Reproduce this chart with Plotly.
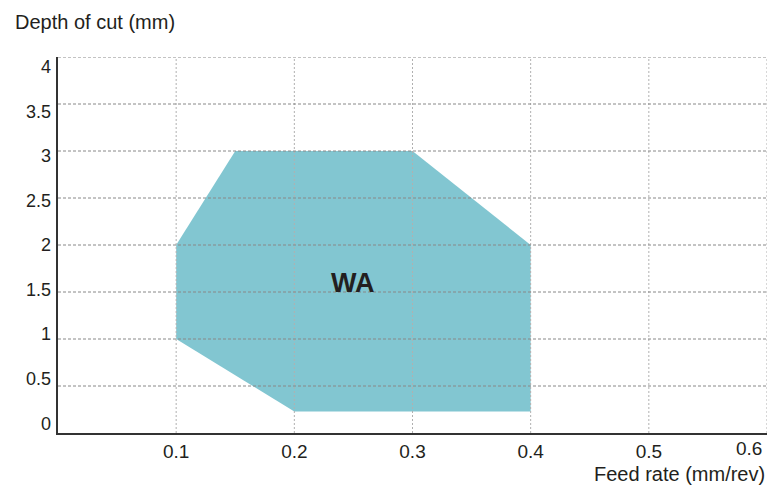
import plotly.graph_objects as go

# Operating region (feed rate mm/rev, depth of cut mm)
region_feed = [0.1, 0.1, 0.15, 0.3, 0.4, 0.4, 0.2, 0.1]
region_depth = [1.0, 2.0, 3.0, 3.0, 2.0, 0.23, 0.23, 1.0]
region_label = "WA"
label_pos = (0.25, 1.6)

x_ticks = [0.1, 0.2, 0.3, 0.4, 0.5, 0.6]
x_ticktext = ["0.1", "0.2", "0.3", "0.4", "0.5", "0.6"]
y_ticks = [0, 0.5, 1, 1.5, 2, 2.5, 3, 3.5, 4]
y_ticktext = ["0", "0.5", "1", "1.5", "2", "2.5", "3", "3.5", "4"]
x_title = "Feed rate (mm/rev)"
y_title = "Depth of cut (mm)"

FONT = "Liberation Sans, Arial, sans-serif"
TXT = "#231f20"
FILL = "#82c6d1"

fig = go.Figure()
fig.add_trace(go.Scatter(
    x=region_feed, y=region_depth, fill="toself", mode="lines",
    line=dict(width=0, color=FILL), fillcolor=FILL, hoverinfo="skip",
    showlegend=False))
# dummy trace to carry the tick-label axis
fig.add_trace(go.Scatter(x=[None], y=[None], xaxis="x", yaxis="y2",
                         showlegend=False, hoverinfo="skip"))

shapes = []
for xv in x_ticks:
    shapes.append(dict(type="line", xref="x", yref="y", x0=xv, x1=xv, y0=0, y1=4,
                       line=dict(color="#b0b0b0", width=1, dash="2px,2px"), layer="above"))
for yv in y_ticks[1:]:
    shapes.append(dict(type="line", xref="x", yref="y", x0=0, x1=0.6, y0=yv, y1=yv,
                       line=dict(color="#888888", width=1, dash="3px,2px"), layer="above"))

annotations = [
    dict(x=label_pos[0], y=label_pos[1], xref="x", yref="y", text="<b>%s</b>" % region_label,
         showarrow=False, font=dict(family=FONT, size=27, color=TXT)),
    dict(x=x_ticks[-1], y=0, xref="x", yref="y", text=x_ticktext[-1], showarrow=False,
         xanchor="right", yanchor="top", xshift=-3, yshift=-3,
         font=dict(family=FONT, size=19, color=TXT)),
    dict(x=1, y=0, xref="paper", yref="y", text=x_title, showarrow=False,
         xanchor="right", yanchor="top", xshift=0, yshift=-28,
         font=dict(family=FONT, size=20, color=TXT)),
    dict(x=0, y=4, xref="paper", yref="y", text=y_title, showarrow=False,
         xanchor="left", yanchor="bottom", xshift=-45, yshift=22,
         font=dict(family=FONT, size=20, color=TXT)),
]

fig.update_layout(
    width=770, height=487,
    margin=dict(l=58, r=3, t=57, b=54, autoexpand=False),
    paper_bgcolor="white", plot_bgcolor="rgba(0,0,0,0)",
    xaxis=dict(range=[0, 0.6], tickvals=x_ticks[:-1], ticktext=x_ticktext[:-1],
               showgrid=False, zeroline=False, showline=True, linecolor="#333333",
               linewidth=2, ticks="", ticklabelstandoff=0, automargin=False,
               tickfont=dict(family=FONT, size=19, color=TXT)),
    yaxis=dict(range=[0, 4], showticklabels=False, showgrid=False, zeroline=False,
               showline=True, linecolor="#333333", linewidth=2, ticks="",
               automargin=False),
    yaxis2=dict(range=[0, 4], domain=[0.026, 0.974], anchor="free", position=0,
                side="left", tickvals=y_ticks, ticktext=y_ticktext, automargin=False,
                showgrid=False, zeroline=False, showline=False, ticks="",
                ticklabelstandoff=7, tickfont=dict(family=FONT, size=18, color=TXT)),
    shapes=shapes, annotations=annotations,
)

fig.write_html("out.html", config={"displayModeBar": False},
               post_script="document.body.style.margin='0';")
